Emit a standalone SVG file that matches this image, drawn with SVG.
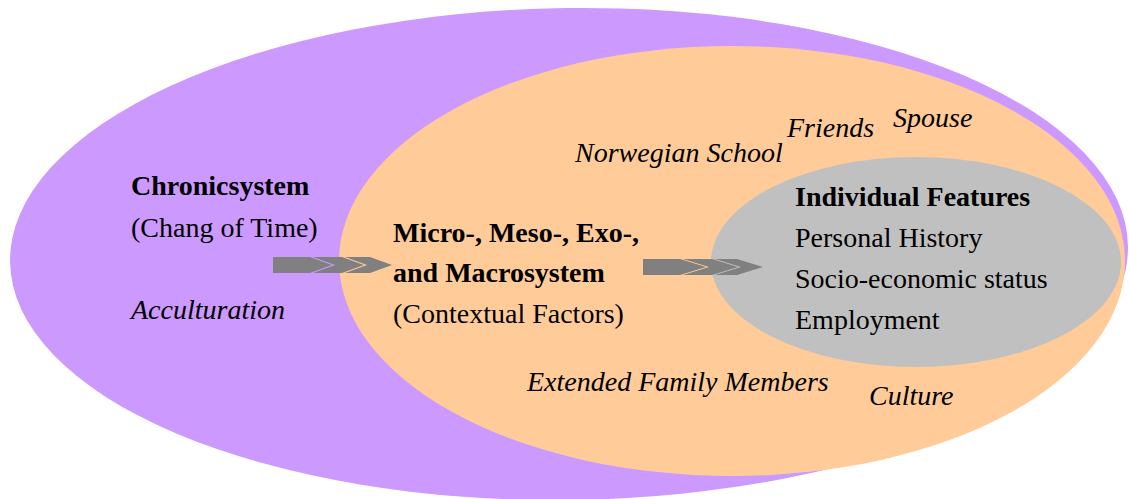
<svg xmlns="http://www.w3.org/2000/svg" width="1129" height="499" viewBox="0 0 1129 499">
<style>
.t{font-family:"Liberation Serif","Times New Roman",serif;font-size:28px;fill:#000}
.b{font-weight:bold}
.i{font-style:italic}
.arr{fill:#808080}
</style>
<rect width="1129" height="499" fill="#ffffff"/>
<g id="chronosystem">
<ellipse cx="569" cy="254" rx="559" ry="246" fill="#CC99FF" transform="rotate(-0.8 569 254)"/>
<text class="t b" x="131" y="195">Chronicsystem</text>
<text class="t" x="131" y="237">(Chang of Time)</text>
<text class="t i" x="131" y="319">Acculturation</text>
</g>
<g id="contextual">
<ellipse cx="732" cy="261" rx="393" ry="215" fill="#FFCC99"/>
<text class="t b" x="393" y="242">Micro-, Meso-, Exo-,</text>
<text class="t b" x="393" y="282">and Macrosystem</text>
<text class="t" x="393" y="323">(Contextual Factors)</text>
<text class="t i" x="575" y="162">Norwegian School</text>
<text class="t i" x="787" y="137">Friends</text>
<text class="t i" x="893" y="127">Spouse</text>
<text class="t i" x="527" y="391">Extended Family Members</text>
<text class="t i" x="869" y="405">Culture</text>
</g>
<g id="individual">
<ellipse cx="916" cy="262" rx="205" ry="105" fill="#C0C0C0"/>
<text class="t b" x="795" y="206">Individual Features</text>
<text class="t" x="795" y="247">Personal History</text>
<text class="t" x="795" y="288">Socio-economic status</text>
<text class="t" x="795" y="329">Employment</text>
</g>
<g id="connectors">
<g id="arrow1" class="arr">
<polygon points="273,257 310,257 332,265 310,273 273,273"/>
<polygon points="313,257 342,257 364,265 342,273 313,273 335,265"/>
<polygon points="345,257 370,257 392,265 370,273 345,273 367,265"/>
</g>
<g id="arrow2" class="arr">
<polygon points="643,259 680,259 706,267 680,275 643,275"/>
<polygon points="683,259 712,259 738,267 712,275 683,275 709,267"/>
<polygon points="715,259 737,259 763,267 737,275 715,275 741,267"/>
</g>
</g>
</svg>
